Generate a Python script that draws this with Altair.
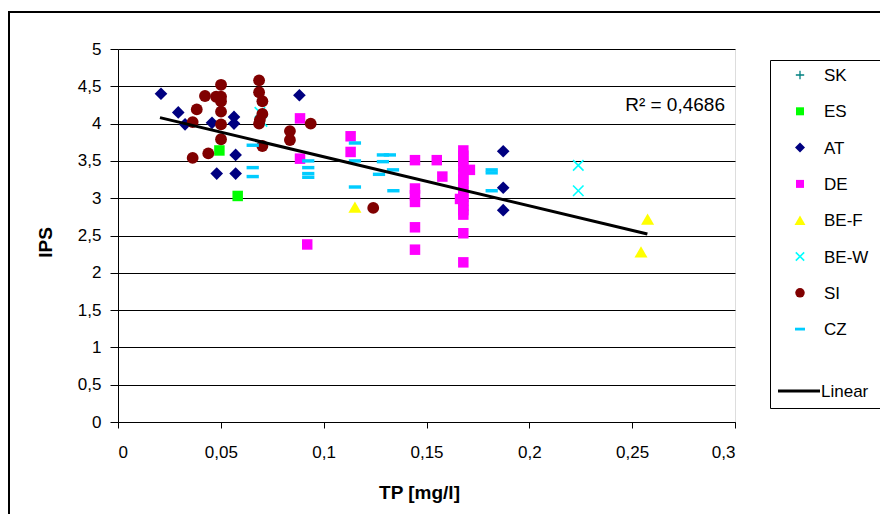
import altair as alt
import pandas as pd

# ---------------- data ----------------
series_names = ["SK", "ES", "AT", "DE", "BE-F", "BE-W", "SI", "CZ"]

sk_x = []
sk_y = []

es_x = [0.0493, 0.0582]
es_y = [3.64, 3.03]

at_x = [0.0209, 0.0293, 0.0326, 0.0457, 0.0564, 0.0564, 0.0480, 0.0572, 0.0572,
        0.0882, 0.1873, 0.1873, 0.1873]
at_y = [4.40, 4.15, 3.99, 4.01, 4.09, 4.00, 3.33, 3.58, 3.33,
        4.38, 3.63, 3.14, 2.84]

de_x = [0.0885, 0.0885, 0.0920, 0.1131, 0.1131, 0.1444, 0.1550, 0.1577, 0.1444,
        0.1444, 0.1444, 0.1444, 0.1444,
        0.1679, 0.1679, 0.1679, 0.1679, 0.1679, 0.1679, 0.1679, 0.1679, 0.1679,
        0.1679, 0.1679, 0.1679, 0.1679, 0.1679, 0.1679, 0.1711, 0.1663]
de_y = [4.07, 3.53, 2.38, 3.83, 3.62, 3.51, 3.51, 3.29, 3.13,
        3.04, 2.95, 2.61, 2.31,
        3.64, 3.57, 3.50, 3.42, 3.33, 3.25, 3.19, 3.10, 3.02,
        2.97, 2.90, 2.84, 2.78, 2.53, 2.14, 3.38, 2.99]

bef_x = [0.1152, 0.2575, 0.2543]
bef_y = [2.88, 2.72, 2.28]

bew_x = [0.2238, 0.2238, 0.0690, 0.0700]
bew_y = [3.44, 3.10, 4.15, 4.03]

si_x = [0.0501, 0.0423, 0.0477, 0.0501, 0.0501, 0.0383, 0.0501, 0.0363, 0.0501,
        0.0501, 0.0439, 0.0363, 0.0686, 0.0686, 0.0702, 0.0702, 0.0690, 0.0686,
        0.0702, 0.0836, 0.0836, 0.0937, 0.1241]
si_y = [4.52, 4.37, 4.36, 4.36, 4.30, 4.19, 4.16, 4.02, 3.99,
        3.79, 3.60, 3.54, 4.58, 4.42, 4.30, 4.13, 4.05, 4.00,
        3.70, 3.90, 3.78, 4.00, 2.87]

cz_x = [0.0655, 0.0655, 0.0655, 0.0925, 0.0925, 0.0925, 0.0925, 0.1152, 0.1152,
        0.1152, 0.1288, 0.1322, 0.1288, 0.1337, 0.1269, 0.1339, 0.1817, 0.1817,
        0.1817]
cz_y = [3.71, 3.41, 3.29, 3.50, 3.41, 3.33, 3.28, 3.74, 3.50,
        3.15, 3.58, 3.58, 3.49, 3.38, 3.32, 3.10, 3.38, 3.34,
        3.10]

trend_x = [0.0204, 0.2574]
trend_y = [4.08, 2.52]
r2_label = "R² = 0,4686"

x_ticks = [0, 0.05, 0.1, 0.15, 0.2, 0.25, 0.3]
y_ticks = [0, 0.5, 1, 1.5, 2, 2.5, 3, 3.5, 4, 4.5, 5]

series_x = {"SK": sk_x, "ES": es_x, "AT": at_x, "DE": de_x, "BE-F": bef_x,
            "BE-W": bew_x, "SI": si_x, "CZ": cz_x}
series_y = {"SK": sk_y, "ES": es_y, "AT": at_y, "DE": de_y, "BE-F": bef_y,
            "BE-W": bew_y, "SI": si_y, "CZ": cz_y}

# ---------------- styles ----------------
FONT = "Liberation Sans"
PLUS = "M-1,0H1M0,-1V1"
XMARK = "M-1,-1L1,1M1,-1L-1,1"
DASH = "M-1,-0.28H1V0.28H-1Z"
style = {
    "SK":   dict(shape=PLUS, color="#008080", filled=False, size=100, lsize=70, sw=1.3),
    "ES":   dict(shape="square", color="#00ff00", filled=True, size=110, lsize=64, sw=0),
    "AT":   dict(shape="diamond", color="#000080", filled=True, size=160, lsize=100, sw=0),
    "DE":   dict(shape="square", color="#ff00ff", filled=True, size=110, lsize=64, sw=0),
    "BE-F": dict(shape="triangle-up", color="#ffff00", filled=True, size=170, lsize=120, sw=0),
    "BE-W": dict(shape=XMARK, color="#00ffff", filled=False, size=110, lsize=70, sw=1.6),
    "SI":   dict(shape="circle", color="#800000", filled=True, size=140, lsize=90, sw=0),
    "CZ":   dict(shape=DASH, color="#00ccff", filled=True, size=150, lsize=100, sw=0),
}

W, H = 617, 373
xscale = alt.Scale(domain=[0, 0.3], nice=False, zero=False)
yscale = alt.Scale(domain=[0, 5], nice=False, zero=False)

xaxis = alt.Axis(values=x_ticks, labelExpr="replace(format(datum.value, '.2~f'), '.', ',')",
                 grid=False, tickSize=6, tickColor="black", domainColor="black",
                 labelFont=FONT, labelFontSize=17, labelColor="black", labelPadding=16,
                 title="TP [mg/l]", titleFont=FONT, titleFontSize=19, titleFontWeight="bold",
                 titleColor="black", titlePadding=23, titleX=301)
yaxis = alt.Axis(values=y_ticks, labelExpr="replace(format(datum.value, '.1~f'), '.', ',')",
                 grid=True, gridColor="black", gridWidth=1, tickSize=8, tickColor="black",
                 domainColor="black", labelFont=FONT, labelFontSize=17, labelColor="black",
                 labelPadding=9, title="IPS", titleFont=FONT, titleFontSize=19,
                 titleFontWeight="bold", titleColor="black", titlePadding=22, titleY=193)


def point_props(st, legend=False):
    size = st["lsize"] if legend else st["size"]
    if st["filled"]:
        return dict(shape=st["shape"], filled=True, fill=st["color"], size=size,
                    opacity=1, strokeWidth=0)
    return dict(shape=st["shape"], filled=False, stroke=st["color"], size=size,
                opacity=1, strokeWidth=st["sw"])


def xy():
    return dict(x=alt.X("x:Q", scale=xscale, axis=xaxis),
                y=alt.Y("y:Q", scale=yscale, axis=yaxis))


layers = []

# base layer with axes
frame_df = pd.DataFrame({"x": [x_ticks[0], x_ticks[-1]], "y": [y_ticks[0], y_ticks[-1]]})
layers.append(alt.Chart(frame_df).mark_point(opacity=0).encode(**xy()))

for name in series_names:
    xs, ys = series_x[name], series_y[name]
    if not xs:
        continue
    df = pd.DataFrame({"x": xs, "y": ys})
    layers.append(alt.Chart(df).mark_point(**point_props(style[name])).encode(**xy()))

# trend line
trend_df = pd.DataFrame({"x": trend_x, "y": trend_y})
layers.append(alt.Chart(trend_df).mark_line(color="black", strokeWidth=3).encode(**xy()))

# R² label
layers.append(alt.Chart(pd.DataFrame({"t": [r2_label]})).mark_text(
    font=FONT, fontSize=19, align="right", baseline="alphabetic", color="black"
).encode(x=alt.value(607), y=alt.value(62), text="t:N"))

# legend box
layers.append(alt.Chart(pd.DataFrame({"a": [0]})).mark_rect(
    fill="white", stroke="black", strokeWidth=1
).encode(x=alt.value(652.5), x2=alt.value(800), y=alt.value(11.5), y2=alt.value(359.5)))

leg_y0, leg_dy = 26, 36.3
for i, name in enumerate(series_names):
    yy = leg_y0 + leg_dy * i
    ldf = pd.DataFrame({"t": [name]})
    layers.append(alt.Chart(ldf).mark_point(**point_props(style[name], legend=True)).encode(
        x=alt.value(682), y=alt.value(yy)))
    layers.append(alt.Chart(ldf).mark_text(font=FONT, fontSize=17, align="left",
                                           baseline="middle", color="black").encode(
        x=alt.value(706), y=alt.value(yy + 1), text="t:N"))

# Linear entry
layers.append(alt.Chart(pd.DataFrame({"a": [0]})).mark_rule(color="black", strokeWidth=3).encode(
    x=alt.value(660), x2=alt.value(702), y=alt.value(342)))
layers.append(alt.Chart(pd.DataFrame({"t": ["Linear"]})).mark_text(
    font=FONT, fontSize=17, align="left", baseline="middle", color="black"
).encode(x=alt.value(703), y=alt.value(343), text="t:N"))

# outer chart border
layers.append(alt.Chart(pd.DataFrame({"a": [0]})).mark_rect(
    fillOpacity=0, stroke="black", strokeWidth=2
).encode(x=alt.value(-109), x2=alt.value(900), y=alt.value(-37), y2=alt.value(600)))

chart = alt.layer(*layers).properties(
    width=W, height=H,
    autosize=alt.AutoSizeParams(type="none"),
    padding={"left": 110, "top": 41, "right": 145, "bottom": 92},
).configure_view(
    fill="#c0c0c0", stroke="#808080", strokeWidth=1
).configure(background="white")

chart.save("out.html", embed_options={"renderer": "svg", "actions": False})
